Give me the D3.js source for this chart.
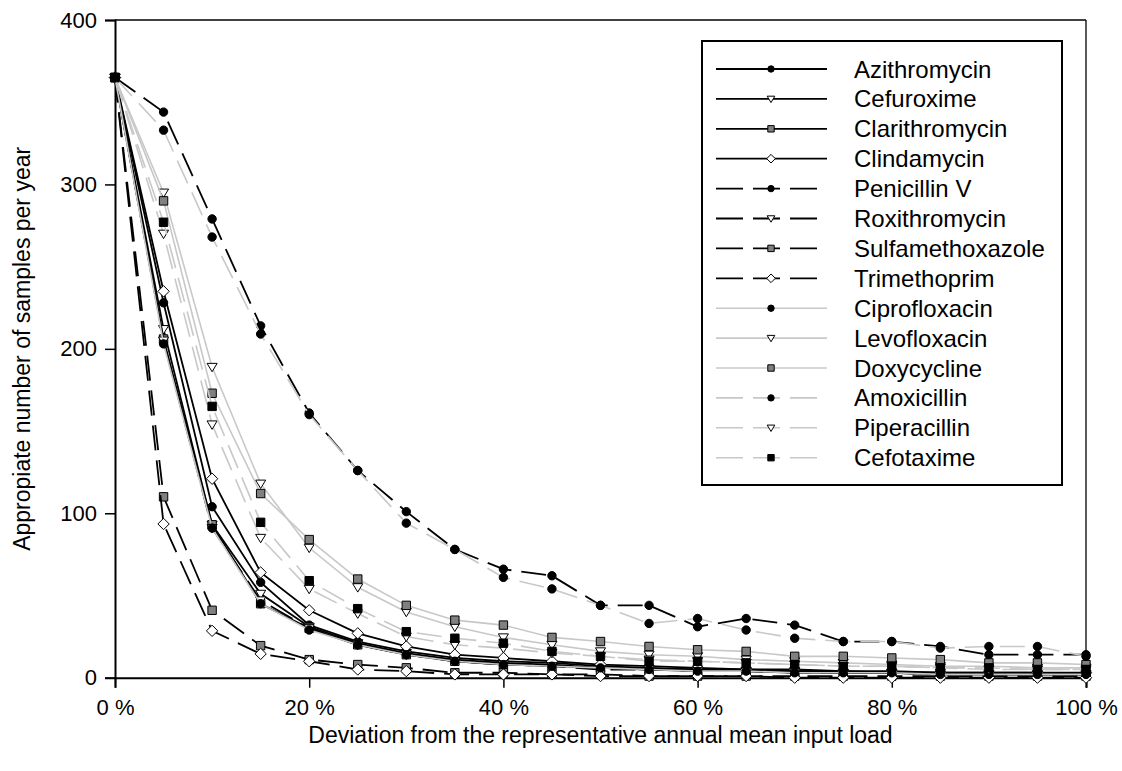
<!DOCTYPE html>
<html><head><meta charset="utf-8">
<script src="https://cdn.jsdelivr.net/npm/d3@7"></script>
<style>body{margin:0;background:#fff;} svg{display:block;font-family:"Liberation Sans",Arial,sans-serif;}</style>
</head><body>
<svg id="chart" width="1122" height="771"></svg>
<script>
const xValues = [0,5,10,15,20,25,30,35,40,45,50,55,60,65,70,75,80,85,90,95,100];
const seriesNames = ["Azithromycin","Cefuroxime","Clarithromycin","Clindamycin","Penicillin V","Roxithromycin","Sulfamethoxazole","Trimethoprim","Ciprofloxacin","Levofloxacin","Doxycycline","Amoxicillin","Piperacillin","Cefotaxime"];
const azithromycin     = [365,228,104,58,32,22,16,12,10,9,7,6,5,5,4,4,3,3,3,3,2];
const cefuroxime       = [365,212,93,51,31,21,15,11,9,8,6,5,5,4,4,3,3,3,2,2,2];
const clarithromycin   = [365,206,93,45,30,20,14,10,8,7,6,5,4,4,3,3,3,2,2,2,2];
const clindamycin      = [365,235,121,64,41,27,19,14,12,10,8,7,6,5,5,4,4,3,3,3,3];
const penicillinV      = [365,344,279,214,161,126,101,78,66,62,44,44,31,36,32,22,22,19,14,14,14];
const roxithromycin    = [365,205,91,47,30,20,14,10,8,7,5,5,4,4,3,3,3,2,2,2,2];
const sulfamethoxazole = [365,110,41,19.5,11,8,6,3,3,2,2,1,1,1,1,1,1,1,1,1,1];
const trimethoprim     = [365,93.5,28.5,14.5,10,5,4,2,2,2,1,1,1,1,0,0,0,0,0,0,0];
const ciprofloxacin    = [365,203,91,45,29,20,14,10,8,7,6,5,4,4,3,3,3,2,2,2,2];
const levofloxacin     = [365,295,189,118,79,55,40,31,24.5,20,16,14,13,11,10,9,8,7,7,6,6];
const doxycycline      = [365,290,173,112,84,60,44,35,32,24.5,22,19,17,16,13,13,12,11,9,9,8];
const amoxicillin      = [365,333,268,209,160,126,94,78,61,54,44,33,36,29,24,22,22,18,19,19,13];
const piperacillin     = [365,270,154,85,54,39,25,20,18,15,13,11,10,9,8,7,7,6,5,5,5];
const cefotaxime       = [365,277,165,94.5,59,42,28,24,21,16,13,10,10,9,8,7,7,6,6,5,5];
const seriesValues = [azithromycin,cefuroxime,clarithromycin,clindamycin,penicillinV,roxithromycin,sulfamethoxazole,trimethoprim,ciprofloxacin,levofloxacin,doxycycline,amoxicillin,piperacillin,cefotaxime];
const xTicks = [0,20,40,60,80,100];
const yTicks = [0,100,200,300,400];
const xTitle = "Deviation from the representative annual mean input load";
const yTitle = "Appropiate number of samples per year";

const lineColor = ["#000","#000","#000","#000","#000","#000","#000","#000","#c8c8c8","#c8c8c8","#c8c8c8","#c8c8c8","#c8c8c8","#c8c8c8"];
const dashed    = [0,0,0,0,1,1,1,1,0,0,0,1,1,1];
const symbol    = ["circle","triangle","square","diamond","circle","triangle","square","diamond","circle","triangle","square","circle","triangle","square"];
const symFill   = ["#000","#fff","#808080","#fff","#000","#fff","#808080","#fff","#000","#fff","#808080","#000","#fff","#000"];

const svg = d3.select("#chart");
const L = 115, R = 1086, T = 20, B = 677.7;
const x = d3.scaleLinear().domain([0,100]).range([L,R]);
const y = d3.scaleLinear().domain([0,400]).range([B,T]);

svg.append("line").attr("x1",L).attr("x2",R).attr("y1",T).attr("y2",T).attr("stroke","#000").attr("stroke-width",1.3);
svg.append("line").attr("x1",R).attr("x2",R).attr("y1",T).attr("y2",B).attr("stroke","#000").attr("stroke-width",1.3);

const xAxis = svg.append("g").attr("transform",`translate(0,${B})`)
  .call(d3.axisBottom(x).tickValues(xTicks).tickFormat(d=>d+" %").tickSize(10).tickPadding(12));
const yAxis = svg.append("g").attr("transform",`translate(${L},0)`)
  .call(d3.axisLeft(y).tickValues(yTicks).tickSize(10).tickPadding(8));
[xAxis,yAxis].forEach(g=>{
  g.select(".domain").attr("stroke","#000").attr("stroke-width",2);
  g.selectAll(".tick line").attr("stroke","#000").attr("stroke-width",1.5);
  g.selectAll("text").attr("font-size",22).attr("fill","#000").attr("font-family","Liberation Sans, Arial, sans-serif");
});

svg.append("text").attr("x",(L+R)/2).attr("y",743).attr("text-anchor","middle")
  .attr("font-size",23).text(xTitle);
svg.append("text").attr("transform",`translate(30,${(T+B)/2}) rotate(-90)`).attr("text-anchor","middle")
  .attr("font-size",23).text(yTitle);

function symPath(type, s){
  if(type==="circle") return d3.symbol(d3.symbolCircle, Math.PI*s*s)();
  if(type==="square") return `M${-s},${-s}H${s}V${s}H${-s}Z`;
  if(type==="triangle") return `M${-s*1.2},${-s*0.85}H${s*1.2}L0,${s*1.15}Z`;
  if(type==="diamond") return `M0,${-s*1.35}L${s*1.35},0L0,${s*1.35}L${-s*1.35},0Z`;
}

const line = d3.line().x((d,i)=>x(xValues[i])).y(d=>y(d));
const plot = svg.append("g");
seriesValues.forEach((vals,k)=>{
  const g = plot.append("g");
  g.append("path").attr("d",line(vals)).attr("fill","none").attr("stroke",lineColor[k])
    .attr("stroke-width", lineColor[k]==="#000"?1.8:1.6)
    .attr("stroke-dasharray", dashed[k]? "25,10":null);
  g.selectAll("path.m").data(vals).join("path").attr("class","m")
    .attr("transform",(d,i)=>`translate(${x(xValues[i])},${y(d)})`)
    .attr("d",symPath(symbol[k],4.2)).attr("fill",symFill[k]).attr("stroke","#000").attr("stroke-width",1);
});

const lg = svg.append("g");
lg.append("rect").attr("x",702).attr("y",41).attr("width",360).attr("height",444).attr("fill","#fff").attr("stroke","#000").attr("stroke-width",2);
seriesNames.forEach((name,k)=>{
  const yy = 69 + k*29.9;
  lg.append("line").attr("x1",716).attr("x2",827).attr("y1",yy).attr("y2",yy)
    .attr("stroke",lineColor[k]).attr("stroke-width",lineColor[k]==="#000"?1.8:1.6)
    .attr("stroke-dasharray",dashed[k]?"27,10":null);
  lg.append("path").attr("transform",`translate(771,${yy})`).attr("d",symPath(symbol[k],3.2))
    .attr("fill",symFill[k]).attr("stroke","#000").attr("stroke-width",1);
  lg.append("text").attr("x",854).attr("y",yy+8.5).attr("font-size",24).text(name);
});
</script>
</body></html>
